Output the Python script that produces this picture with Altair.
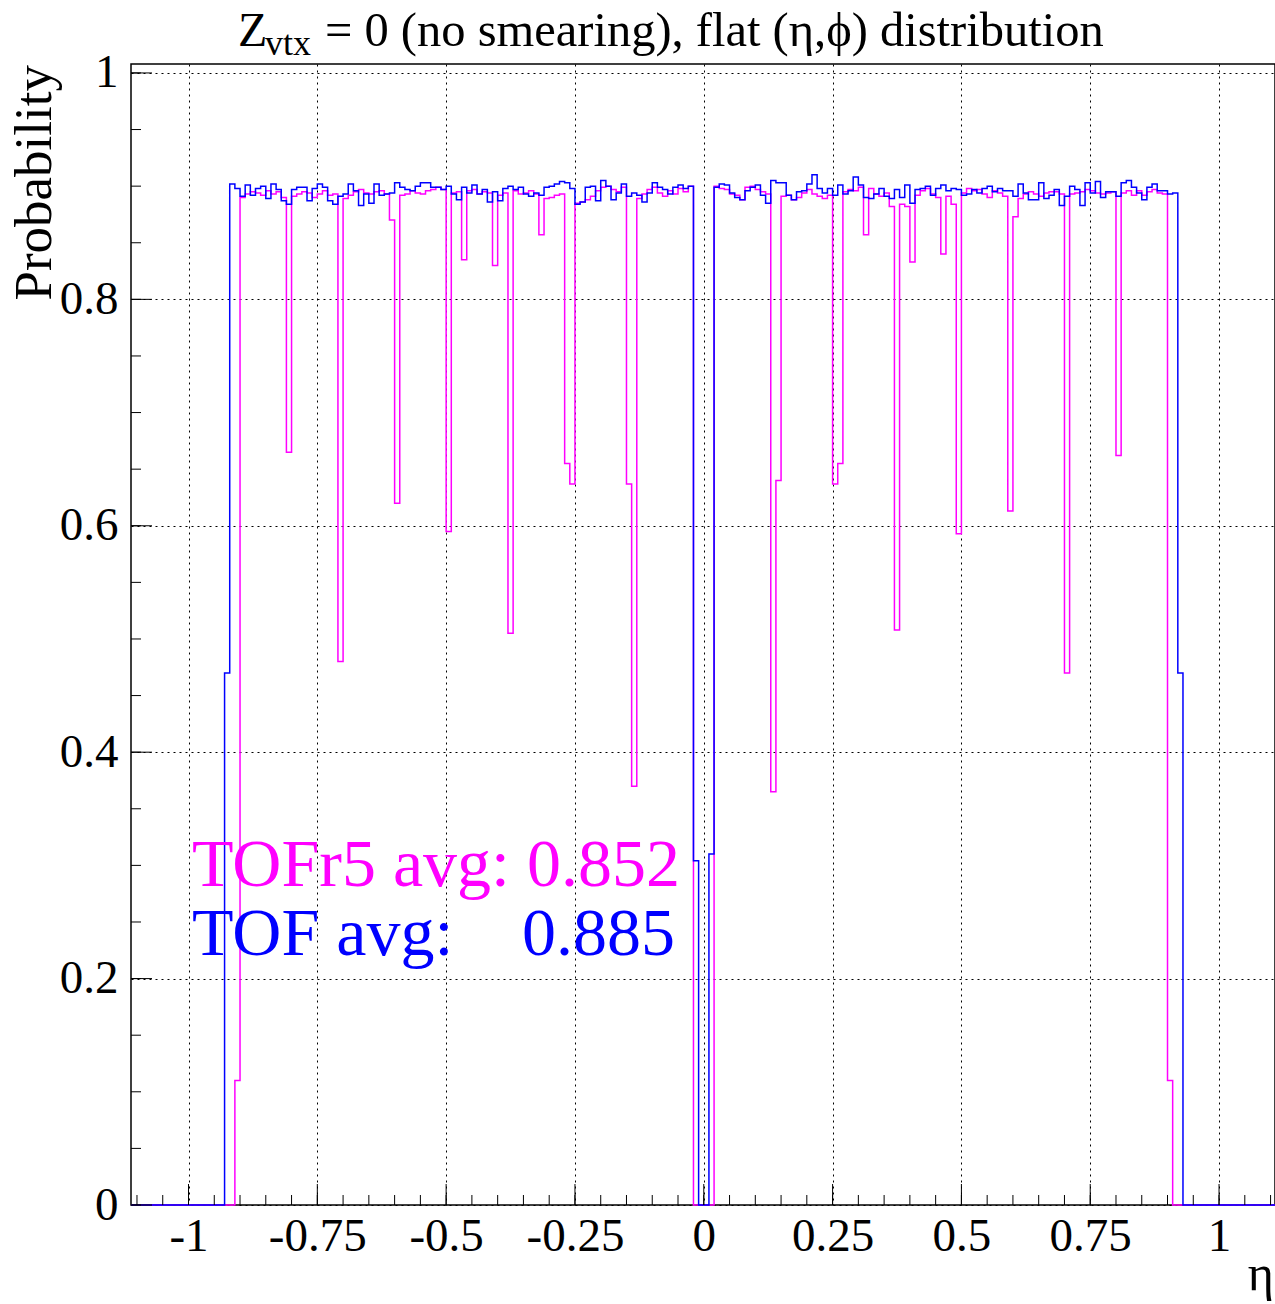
import altair as alt
import pandas as pd

# ---------------- data ----------------
BIN_LO = -0.93          # left edge of the first listed bin
BIN_W = 0.01            # bin width in eta
X_DOMAIN = [-1.1116, 1.1086]
Y_DOMAIN = [0.0, 1.0079]

# TOF (blue): bins [-0.92,-0.02] and [0.02,0.92]
blue_left = [0.902, 0.898, 0.891, 0.901, 0.892, 0.898, 0.900, 0.889, 0.902, 0.897,
             0.887, 0.884, 0.897, 0.899, 0.899, 0.887, 0.898, 0.902, 0.899, 0.887,
             0.884, 0.891, 0.893, 0.902, 0.896, 0.883, 0.893, 0.885, 0.902, 0.892,
             0.893, 0.894, 0.903, 0.899, 0.897, 0.896, 0.900, 0.903, 0.903, 0.899,
             0.899, 0.897, 0.900, 0.893, 0.888, 0.899, 0.894, 0.901, 0.893, 0.897,
             0.886, 0.895, 0.887, 0.898, 0.900, 0.897, 0.899, 0.893, 0.891, 0.894,
             0.892, 0.899, 0.900, 0.902, 0.904, 0.903, 0.898, 0.884, 0.886, 0.899,
             0.900, 0.887, 0.905, 0.900, 0.888, 0.894, 0.902, 0.891, 0.894, 0.892,
             0.886, 0.894, 0.903, 0.899, 0.897, 0.893, 0.899, 0.901, 0.898, 0.900]
blue_right = [0.899, 0.902, 0.901, 0.894, 0.890, 0.888, 0.896, 0.899, 0.901, 0.892,
              0.885, 0.905, 0.903, 0.903, 0.892, 0.888, 0.895, 0.896, 0.902, 0.910,
              0.898, 0.894, 0.898, 0.892, 0.901, 0.893, 0.896, 0.908, 0.901, 0.890,
              0.889, 0.893, 0.898, 0.891, 0.889, 0.897, 0.890, 0.901, 0.885, 0.897,
              0.898, 0.900, 0.892, 0.898, 0.901, 0.896, 0.898, 0.897, 0.892, 0.893,
              0.897, 0.894, 0.898, 0.900, 0.895, 0.898, 0.896, 0.896, 0.891, 0.902,
              0.894, 0.888, 0.888, 0.903, 0.889, 0.892, 0.897, 0.883, 0.891, 0.900,
              0.897, 0.883, 0.903, 0.894, 0.904, 0.890, 0.895, 0.895, 0.891, 0.903,
              0.905, 0.899, 0.894, 0.888, 0.899, 0.902, 0.896, 0.896, 0.893, 0.894]
blue_edge_bin = [0.47]                      # [-0.93,-0.92] and [0.92,0.93]
blue_center = [0.304, 0.0, 0.0, 0.310]      # [-0.02,0.02]

# TOFr5 (magenta): bins [-0.90,-0.02] and [0.02,0.90]
mag_left = [0.890, 0.893, 0.895, 0.894, 0.892, 0.896, 0.893, 0.895, 0.890, 0.665,
            0.891, 0.893, 0.895, 0.894, 0.890, 0.893, 0.896, 0.892, 0.893, 0.480,
            0.889, 0.892, 0.895, 0.897, 0.894, 0.893, 0.895, 0.896, 0.893, 0.870,
            0.620, 0.892, 0.893, 0.896, 0.894, 0.893, 0.896, 0.897, 0.899, 0.897,
            0.595, 0.894, 0.895, 0.835, 0.896, 0.897, 0.893, 0.895, 0.894, 0.830,
            0.892, 0.894, 0.505, 0.896, 0.893, 0.894, 0.896, 0.893, 0.857, 0.889,
            0.890, 0.892, 0.893, 0.655, 0.637, 0.885, 0.886, 0.888, 0.891, 0.896,
            0.899, 0.900, 0.897, 0.895, 0.899, 0.637, 0.370, 0.889, 0.893, 0.897,
            0.899, 0.894, 0.891, 0.896, 0.893, 0.898, 0.895, 0.900]
mag_right = [0.900, 0.898, 0.897, 0.893, 0.892, 0.888, 0.899, 0.900, 0.897, 0.895,
             0.893, 0.365, 0.640, 0.891, 0.892, 0.888, 0.890, 0.894, 0.897, 0.893,
             0.891, 0.889, 0.892, 0.637, 0.655, 0.895, 0.897, 0.896, 0.899, 0.857,
             0.898, 0.893, 0.891, 0.894, 0.882, 0.508, 0.884, 0.882, 0.833, 0.892,
             0.896, 0.898, 0.893, 0.890, 0.840, 0.891, 0.884, 0.593, 0.894, 0.898,
             0.896, 0.897, 0.893, 0.890, 0.896, 0.894, 0.891, 0.613, 0.873, 0.889,
             0.893, 0.895, 0.893, 0.891, 0.894, 0.895, 0.895, 0.893, 0.470, 0.893,
             0.894, 0.895, 0.897, 0.896, 0.894, 0.893, 0.894, 0.895, 0.662, 0.894,
             0.896, 0.892, 0.896, 0.892, 0.895, 0.897, 0.894, 0.893]
mag_edge_left = [0.0, 0.0, 0.11]            # [-0.93,-0.90]
mag_edge_right = [0.11, 0.0, 0.0]           # [0.90,0.93]
mag_center = [0.0, 0.0, 0.0, 0.0]           # [-0.02,0.02]

x_major = [-1, -0.75, -0.5, -0.25, 0, 0.25, 0.5, 0.75, 1]
x_minor = [round(-1.1 + 0.05 * i, 2) for i in range(45)]
y_major = [0, 0.2, 0.4, 0.6, 0.8, 1.0]
y_minor = [round(0.05 * i, 2) for i in range(21)]

title_main = "= 0 (no smearing), flat (η,ϕ) distribution"
label_r5 = "TOFr5 avg: 0.852"
label_tof = "TOF avg:"
label_tof_val = "0.885"

blue = blue_edge_bin + blue_left + blue_center + blue_right + blue_edge_bin
magenta = mag_edge_left + mag_left + mag_center + mag_right + mag_edge_right


def steps(vals):
    rows = [{"x": X_DOMAIN[0], "y": 0.0}]
    for i, v in enumerate(vals):
        rows.append({"x": round(BIN_LO + i * BIN_W, 4), "y": v})
    rows.append({"x": round(BIN_LO + len(vals) * BIN_W, 4), "y": 0.0})
    rows.append({"x": X_DOMAIN[1], "y": 0.0})
    return pd.DataFrame(rows)


PLOT_W = 1144
PLOT_H = 1141
FONT = "Liberation Serif"

xs = alt.Scale(domain=X_DOMAIN, nice=False, zero=False)
ys = alt.Scale(domain=Y_DOMAIN, nice=False, zero=False)

x_axis = alt.Axis(values=x_major, labelExpr="toString(datum.value)", grid=True,
                  gridDash=[2, 4], gridColor="black", gridOpacity=1, gridWidth=1,
                  ticks=False, tickSize=0, domain=False, labelFont=FONT,
                  labelFontSize=47, labelColor="black", labelPadding=8,
                  labelFlush=False, labelOverlap=False, title=None)
y_axis = alt.Axis(values=y_major, labelExpr="toString(datum.value)", grid=True,
                  gridDash=[2, 4], gridColor="black", gridOpacity=1, gridWidth=1,
                  ticks=False, tickSize=0, domain=False, labelFont=FONT,
                  labelFontSize=47, labelColor="black", labelPadding=13,
                  labelFlush=False, labelOverlap=False, title=None)

X = lambda: alt.X("x:Q", scale=xs, axis=x_axis)
Y = lambda: alt.Y("y:Q", scale=ys, axis=y_axis)

mag_line = alt.Chart(steps(magenta)).mark_line(
    interpolate="step-after", color="#ff00ff", strokeWidth=1.5
).encode(x=X(), y=Y())

blue_line = alt.Chart(steps(blue)).mark_line(
    interpolate="step-after", color="#0000ff", strokeWidth=1.5
).encode(x=X(), y=Y())

x_major_t = alt.Chart(pd.DataFrame({"x": x_major})).mark_rule(color="black", strokeWidth=1).encode(
    x=X(), y=alt.value(PLOT_H), y2=alt.value(PLOT_H - 21))
x_minor_t = alt.Chart(pd.DataFrame({"x": x_minor})).mark_rule(color="black", strokeWidth=1).encode(
    x=X(), y=alt.value(PLOT_H), y2=alt.value(PLOT_H - 10))
y_major_t = alt.Chart(pd.DataFrame({"y": y_major})).mark_rule(color="black", strokeWidth=1).encode(
    y=Y(), x=alt.value(0), x2=alt.value(21))
y_minor_t = alt.Chart(pd.DataFrame({"y": y_minor})).mark_rule(color="black", strokeWidth=1).encode(
    y=Y(), x=alt.value(0), x2=alt.value(10))

one = pd.DataFrame({"a": [0]})


def txt(t, x, y, size, color="black", align="left", angle=0):
    kw = dict(text=t, font=FONT, fontSize=size, color=color, align=align,
              baseline="alphabetic")
    if angle:
        kw["angle"] = angle
    return alt.Chart(one).mark_text(**kw).encode(x=alt.value(x), y=alt.value(y))


texts = [
    txt("Z", 107, -18, 48),
    txt("vtx", 134, -9, 36),
    txt(title_main, 194, -18, 48.5),
    txt("Probability", -80, 1, 53, align="right", angle=270),
    txt("η", 1143, 1226, 50, align="right"),
    txt(label_r5, 61, 822, 68, color="#ff00ff"),
    txt(label_tof, 61, 891, 68, color="#0000ff"),
    txt(label_tof_val, 391, 891, 68, color="#0000ff"),
]

chart = alt.layer(
    mag_line, blue_line, x_major_t, x_minor_t, y_major_t, y_minor_t, *texts
).properties(
    width=PLOT_W, height=PLOT_H,
    autosize=alt.AutoSizeParams(type="none"),
    padding={"left": 131, "top": 64, "right": 0, "bottom": 99},
    background="white",
).configure_view(stroke="black", strokeWidth=1.5)

chart.save("out.html", embed_options={"renderer": "svg", "actions": False})
